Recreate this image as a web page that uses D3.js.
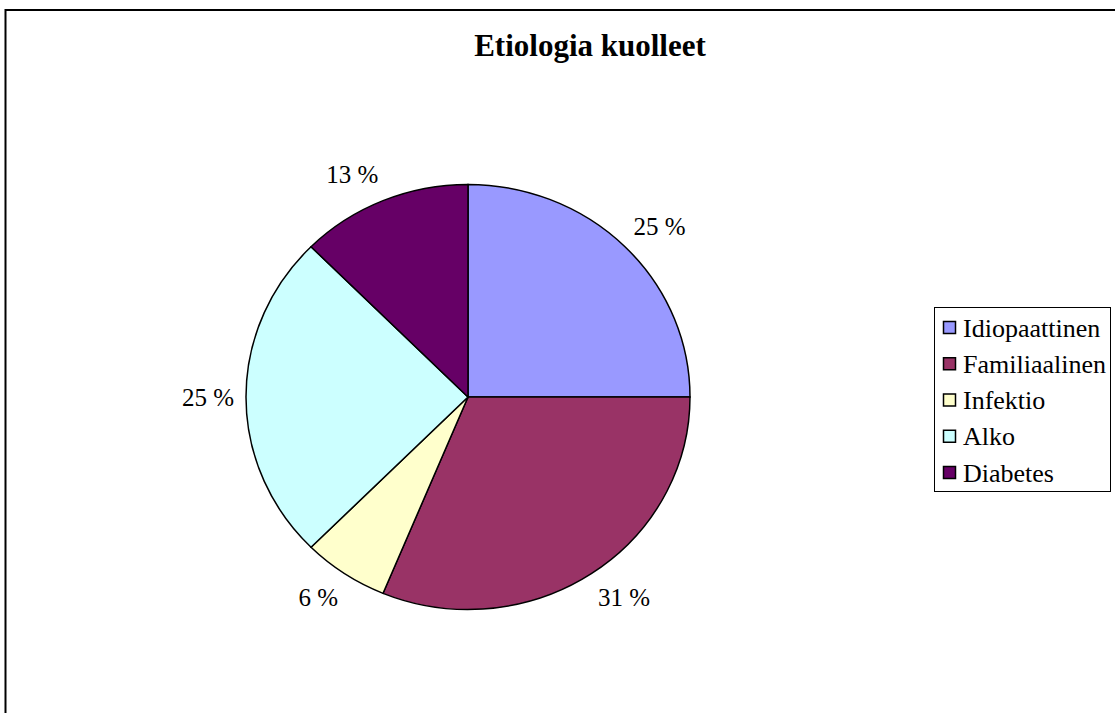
<!DOCTYPE html>
<html>
<head>
<meta charset="utf-8">
<script src="https://cdn.jsdelivr.net/npm/d3@7"></script>
<style>
  body { margin: 0; background: #fff; }
  svg { display: block; }
  svg text { font-family: 'Liberation Serif', 'DejaVu Serif', serif; }
</style>
</head>
<body>
<svg id="main" width="1115" height="713"></svg>
<script>
const title = "Etiologia kuolleet";
const categories = ["Idiopaattinen", "Familiaalinen", "Infektio", "Alko", "Diabetes"];
const counts = [4, 5, 1, 4, 2];
const colors = ["#9999ff", "#993366", "#ffffcc", "#ccffff", "#660066"];

const FONT = "'Liberation Serif', 'DejaVu Serif', serif";
const svg = d3.select("#main");
const cx = 468, cy = 397, rx = 222, ry = 212.5;

// frame
svg.append("rect")
  .attr("x", 5.5).attr("y", 10)
  .attr("width", 1200).attr("height", 800)
  .attr("fill", "none").attr("stroke", "#000").attr("stroke-width", 2);

svg.append("text")
  .attr("x", 590).attr("y", 56)
  .attr("text-anchor", "middle")
  .attr("font-family", FONT)
  .attr("font-weight", "bold")
  .attr("font-size", 31)
  .text(title);

const total = d3.sum(counts);
const pie = d3.pie().sort(null)(counts);
const arc = d3.arc().innerRadius(0).outerRadius(rx);

const g = svg.append("g")
  .attr("transform", `translate(${cx},${cy}) scale(1,${ry / rx})`);

g.selectAll("path")
  .data(pie)
  .enter()
  .append("path")
  .attr("d", arc)
  .attr("fill", (d, i) => colors[i])
  .attr("stroke", "#000")
  .attr("stroke-width", 1.5)
  .attr("vector-effect", "non-scaling-stroke");

// percentage labels outside the pie
const fmt = v => `${Math.round(v / total * 100)} %`;
const h = 17;
svg.selectAll("text.lbl")
  .data(pie)
  .enter()
  .append("text")
  .attr("class", "lbl")
  .attr("font-family", FONT)
  .attr("font-size", 25)
  .text(d => fmt(d.data))
  .each(function(d) {
    const a = (d.startAngle + d.endAngle) / 2;
    const s = Math.sin(a), c = Math.cos(a);
    const x = cx + s * (rx + 12);
    const py = cy - c * (ry + 20);
    d3.select(this)
      .attr("text-anchor", s > 0.01 ? "start" : (s < -0.01 ? "end" : "middle"))
      .attr("x", x)
      .attr("y", py + (h / 2) * (1 - c));
  });

// legend
const lg = svg.append("g");
lg.append("rect")
  .attr("x", 934.5).attr("y", 307.5)
  .attr("width", 176).attr("height", 184)
  .attr("fill", "#fff").attr("stroke", "#000").attr("stroke-width", 1);

const rowY = d3.scalePoint().domain(categories).range([328, 473]);
const items = lg.selectAll("g.item")
  .data(categories)
  .enter()
  .append("g")
  .attr("class", "item")
  .attr("transform", d => `translate(0,${rowY(d)})`);

items.append("rect")
  .attr("x", 943.5).attr("y", -6.5)
  .attr("width", 12).attr("height", 12)
  .attr("fill", (d, i) => colors[i])
  .attr("stroke", "#000").attr("stroke-width", 1.5);

items.append("text")
  .attr("x", 963).attr("y", 8.5)
  .attr("font-family", FONT)
  .attr("font-size", 26)
  .text(d => d);
</script>
</body>
</html>
